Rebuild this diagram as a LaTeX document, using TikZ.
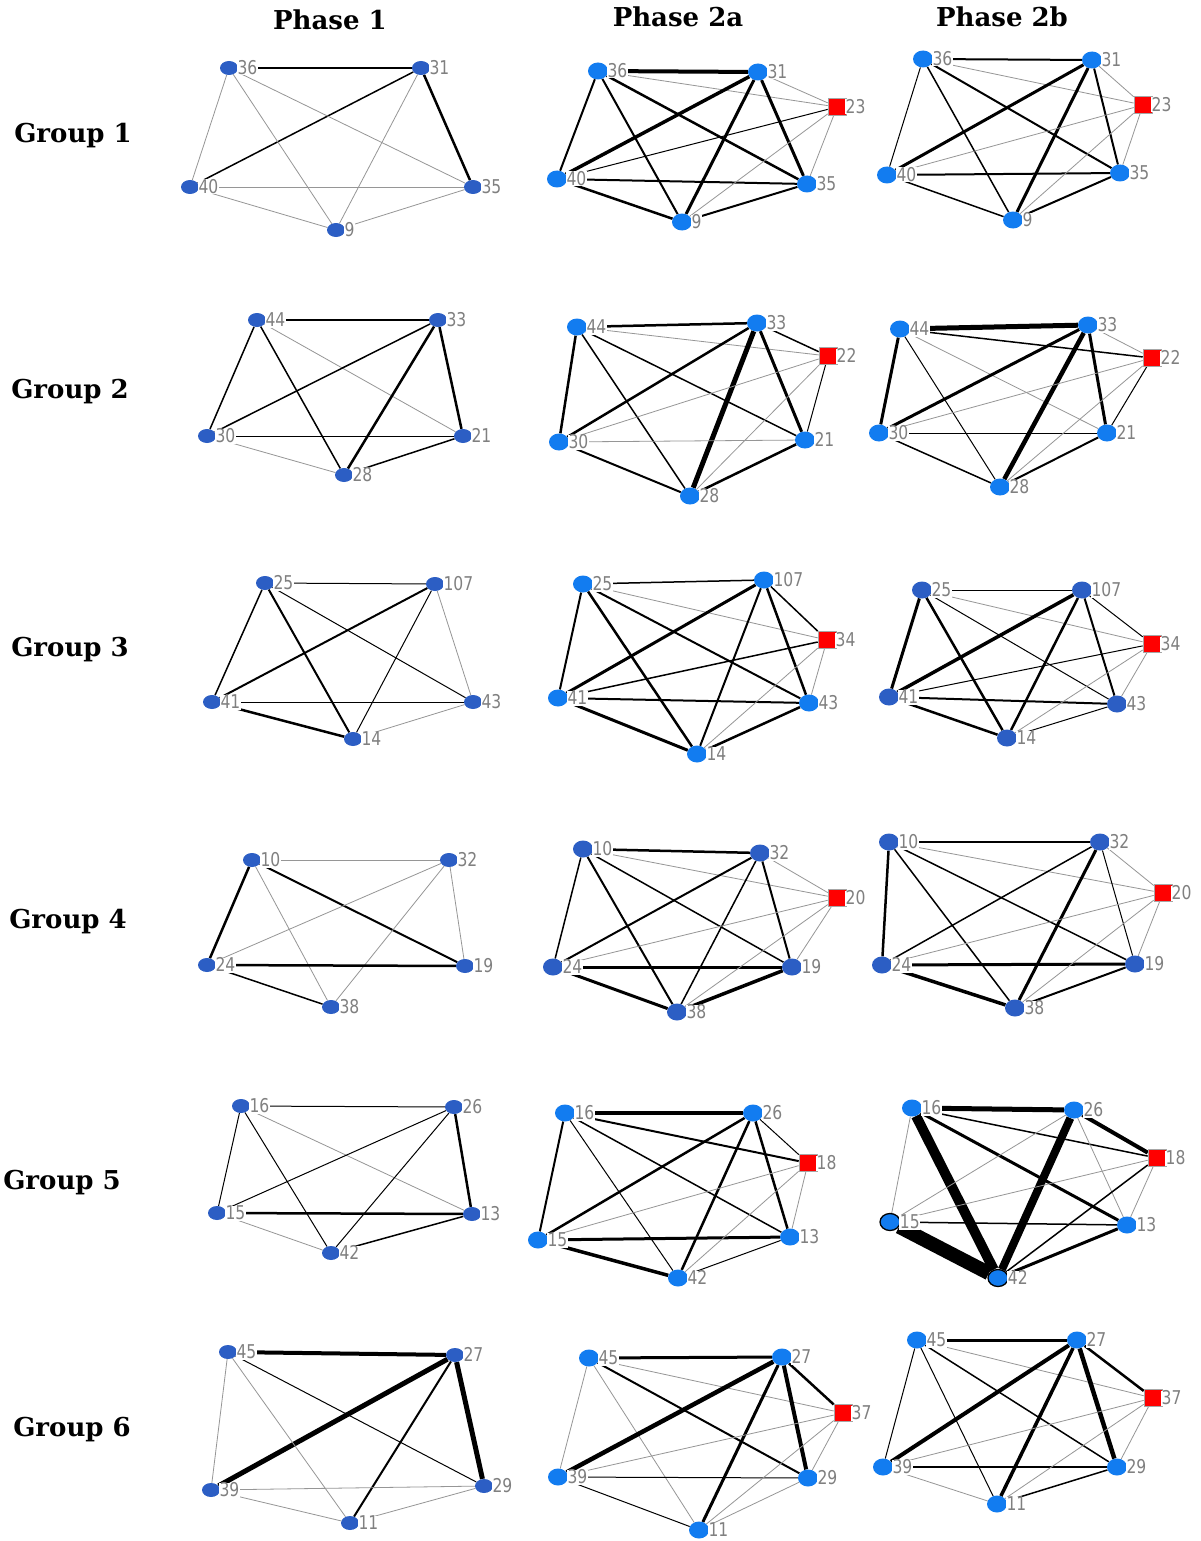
\documentclass[tikz,border=0pt]{standalone}
\usepackage{fontspec}
\usetikzlibrary{shapes.geometric}
\newfontfamily\labfont[FakeStretch=0.82]{DejaVu Sans}
\newfontfamily\headfont{DejaVu Serif}
\definecolor{nbright}{RGB}{18,124,240}
\definecolor{ndark}{RGB}{44,94,196}
\definecolor{lgray}{RGB}{128,128,128}
\definecolor{egray}{RGB}{150,150,150}
\pgfdeclarelayer{back}
\pgfdeclarelayer{bg}
\pgfsetlayers{back,bg,main}
\newcommand\nd[4]{%
  \node[#2] (#1) at (#3) {};
  \node[lab] (#1l) at ([xshift=-1.5pt]#1.east) {#4};}
\tikzset{
  nb/.style={ellipse, minimum width=20pt, minimum height=17pt, inner sep=0pt, fill=nbright},
  nd/.style={ellipse, minimum width=20pt, minimum height=17pt, inner sep=0pt, fill=ndark},
  np/.style={ellipse, minimum width=18pt, minimum height=14pt, inner sep=0pt, fill=ndark},
  nbo/.style={nb, draw=black, line width=1.3pt},
  sq/.style={rectangle, minimum width=18pt, minimum height=17pt, inner sep=0pt, fill=red, draw=gray!70, line width=0.6pt},
  lab/.style={anchor=west, font=\labfont\fontsize{19}{19}\selectfont, text=lgray, fill=white, inner sep=0.6pt, text height=13.8pt, text depth=0pt},
  head/.style={font=\headfont\bfseries\fontsize{26}{30}\selectfont, inner sep=0pt},
  t0/.style={draw=egray, line width=0.8pt},
  t1/.style={draw=black, line width=1pt},
  t15/.style={draw=black, line width=1.5pt},
  t2/.style={draw=black, line width=2pt},
  t25/.style={draw=black, line width=2.5pt},
  t3/.style={draw=black, line width=3pt},
  t35/.style={draw=black, line width=3.5pt},
  t4/.style={draw=black, line width=4pt},
  t45/.style={draw=black, line width=4.5pt},
  t5/.style={draw=black, line width=5pt},
  t8/.style={draw=black, line width=8pt},
  t10/.style={draw=black, line width=10pt},
  t14/.style={draw=black, line width=14pt},
}
\begin{document}
\begin{tikzpicture}[x=1pt,y=-1pt]
\begin{pgfonlayer}{back}
\fill[white] (0,0) rectangle (1200,1541);
\end{pgfonlayer}
\useasboundingbox (0,0) rectangle (1200,1541);

% headers
\node[head] (hp1) at (330,20) {Phase 1};
\node[head] (hp2a) at (678,17) {Phase 2a};
\node[head] (hp2b) at (1002,17) {Phase 2b};
\node[head] (hg1) at (73,136) {Group 1};
\node[head] (hg2) at (70,392) {Group 2};
\node[head] (hg3) at (70,650) {Group 3};
\node[head] (hg4) at (68,922) {Group 4};
\node[head] (hg5) at (62,1183) {Group 5};
\node[head] (hg6) at (72,1430) {Group 6};

% ---------- Group 1, Phase 1
\nd{a1n36}{np}{229,68}{36}
\nd{a1n31}{np}{421,68}{31}
\nd{a1n40}{np}{190,187}{40}
\nd{a1n35}{np}{473,187}{35}
\nd{a1n9}{np}{336,230}{9}
\begin{pgfonlayer}{bg}
\draw[t15] (a1n36)--(a1n31); \draw[t15] (a1n31)--(a1n40); \draw[t25] (a1n31)--(a1n35);
\draw[t0] (a1n36)--(a1n40); \draw[t0] (a1n36)--(a1n9); \draw[t0] (a1n36)--(a1n35);
\draw[t0] (a1n31)--(a1n9); \draw[t0] (a1n40)--(a1n35); \draw[t0] (a1n40)--(a1n9); \draw[t0] (a1n9)--(a1n35);
\end{pgfonlayer}

% ---------- Group 1, Phase 2a
\nd{b1n36}{nb}{598,71}{36}
\nd{b1n31}{nb}{758,72}{31}
\nd{b1n23}{sq}{837,107}{23}
\nd{b1n40}{nb}{557,179}{40}
\nd{b1n35}{nb}{807,184}{35}
\nd{b1n9}{nb}{682,222}{9}
\begin{pgfonlayer}{bg}
\draw[t4] (b1n36)--(b1n31); \draw[t0] (b1n36)--(b1n23); \draw[t2] (b1n36)--(b1n40);
\draw[t2] (b1n36)--(b1n9); \draw[t25] (b1n36)--(b1n35); \draw[t35] (b1n31)--(b1n40);
\draw[t3] (b1n31)--(b1n9); \draw[t3] (b1n31)--(b1n35); \draw[t0] (b1n31)--(b1n23);
\draw[t1] (b1n40)--(b1n23); \draw[t2] (b1n40)--(b1n35); \draw[t25] (b1n40)--(b1n9);
\draw[t0] (b1n9)--(b1n23); \draw[t2] (b1n9)--(b1n35); \draw[t0] (b1n35)--(b1n23);
\end{pgfonlayer}

% ---------- Group 1, Phase 2b
\nd{c1n36}{nb}{923,59}{36}
\nd{c1n31}{nb}{1092,60}{31}
\nd{c1n23}{sq}{1143,105}{23}
\nd{c1n40}{nb}{887,175}{40}
\nd{c1n35}{nb}{1120,173}{35}
\nd{c1n9}{nb}{1013,220}{9}
\begin{pgfonlayer}{bg}
\draw[t2] (c1n36)--(c1n31); \draw[t0] (c1n36)--(c1n23); \draw[t1] (c1n36)--(c1n40);
\draw[t15] (c1n36)--(c1n9); \draw[t2] (c1n36)--(c1n35); \draw[t3] (c1n31)--(c1n40);
\draw[t3] (c1n31)--(c1n9); \draw[t2] (c1n31)--(c1n35); \draw[t0] (c1n31)--(c1n23);
\draw[t0] (c1n40)--(c1n23); \draw[t2] (c1n40)--(c1n35); \draw[t15] (c1n40)--(c1n9);
\draw[t0] (c1n9)--(c1n23); \draw[t2] (c1n9)--(c1n35); \draw[t0] (c1n35)--(c1n23);
\end{pgfonlayer}

% ---------- Group 2, Phase 1
\nd{a2n44}{np}{257,320}{44}
\nd{a2n33}{np}{438,320}{33}
\nd{a2n30}{np}{207,436}{30}
\nd{a2n21}{np}{463,436}{21}
\nd{a2n28}{np}{344,475}{28}
\begin{pgfonlayer}{bg}
\draw[t25] (a2n44)--(a2n33); \draw[t15] (a2n44)--(a2n30); \draw[t15] (a2n44)--(a2n28);
\draw[t0] (a2n44)--(a2n21); \draw[t15] (a2n33)--(a2n30); \draw[t25] (a2n33)--(a2n28);
\draw[t25] (a2n33)--(a2n21); \draw[t1] (a2n30)--(a2n21); \draw[t0] (a2n30)--(a2n28);
\draw[t15] (a2n28)--(a2n21);
\end{pgfonlayer}

% ---------- Group 2, Phase 2a
\nd{b2n44}{nb}{577,327}{44}
\nd{b2n33}{nb}{757,323}{33}
\nd{b2n22}{sq}{828,356}{22}
\nd{b2n30}{nb}{559,442}{30}
\nd{b2n21}{nb}{805,440}{21}
\nd{b2n28}{nb}{690,496}{28}
\begin{pgfonlayer}{bg}
\draw[t25] (b2n44)--(b2n33); \draw[t0] (b2n44)--(b2n22); \draw[t25] (b2n44)--(b2n30);
\draw[t15] (b2n44)--(b2n28); \draw[t15] (b2n44)--(b2n21); \draw[t25] (b2n33)--(b2n30);
\draw[t5] (b2n33)--(b2n28); \draw[t3] (b2n33)--(b2n21); \draw[t15] (b2n33)--(b2n22);
\draw[t0] (b2n30)--(b2n22); \draw[t0] (b2n30)--(b2n21); \draw[t2] (b2n30)--(b2n28);
\draw[t0] (b2n28)--(b2n22); \draw[t25] (b2n28)--(b2n21); \draw[t1] (b2n21)--(b2n22);
\end{pgfonlayer}

% ---------- Group 2, Phase 2b
\nd{c2n44}{nb}{900,329}{44}
\nd{c2n33}{nb}{1088,325}{33}
\nd{c2n22}{sq}{1152,358}{22}
\nd{c2n30}{nb}{879,433}{30}
\nd{c2n21}{nb}{1107,433}{21}
\nd{c2n28}{nb}{1000,487}{28}
\begin{pgfonlayer}{bg}
\draw[t5] (c2n44)--(c2n33); \draw[t15] (c2n44)--(c2n22); \draw[t3] (c2n44)--(c2n30);
\draw[t1] (c2n44)--(c2n28); \draw[t0] (c2n44)--(c2n21); \draw[t3] (c2n33)--(c2n30);
\draw[t45] (c2n33)--(c2n28); \draw[t3] (c2n33)--(c2n21); \draw[t0] (c2n33)--(c2n22);
\draw[t0] (c2n30)--(c2n22); \draw[t1] (c2n30)--(c2n21); \draw[t15] (c2n30)--(c2n28);
\draw[t0] (c2n28)--(c2n22); \draw[t2] (c2n28)--(c2n21); \draw[t1] (c2n21)--(c2n22);
\end{pgfonlayer}

% ---------- Group 3, Phase 1
\nd{a3n25}{np}{265,583}{25}
\nd{a3n107}{np}{435,584}{107}
\nd{a3n41}{np}{212,702}{41}
\nd{a3n43}{np}{473,702}{43}
\nd{a3n14}{np}{353,739}{14}
\begin{pgfonlayer}{bg}
\draw[t1] (a3n25)--(a3n107); \draw[t15] (a3n25)--(a3n41); \draw[t2] (a3n25)--(a3n14);
\draw[t1] (a3n25)--(a3n43); \draw[t2] (a3n107)--(a3n41); \draw[t1] (a3n107)--(a3n14);
\draw[t0] (a3n107)--(a3n43); \draw[t1] (a3n41)--(a3n43); \draw[t25] (a3n41)--(a3n14);
\draw[t0] (a3n14)--(a3n43);
\end{pgfonlayer}

% ---------- Group 3, Phase 2a
\nd{b3n25}{nb}{583,584}{25}
\nd{b3n107}{nb}{764,580}{107}
\nd{b3n34}{sq}{827,640}{34}
\nd{b3n41}{nb}{558,698}{41}
\nd{b3n43}{nb}{809,703}{43}
\nd{b3n14}{nb}{697,754}{14}
\begin{pgfonlayer}{bg}
\draw[t15] (b3n25)--(b3n107); \draw[t0] (b3n25)--(b3n34); \draw[t2] (b3n25)--(b3n41);
\draw[t25] (b3n25)--(b3n14); \draw[t2] (b3n25)--(b3n43); \draw[t3] (b3n107)--(b3n41);
\draw[t2] (b3n107)--(b3n14); \draw[t25] (b3n107)--(b3n43); \draw[t15] (b3n107)--(b3n34);
\draw[t15] (b3n41)--(b3n34); \draw[t2] (b3n41)--(b3n43); \draw[t3] (b3n41)--(b3n14);
\draw[t0] (b3n14)--(b3n34); \draw[t25] (b3n14)--(b3n43); \draw[t0] (b3n43)--(b3n34);
\end{pgfonlayer}

% ---------- Group 3, Phase 2b
\nd{c3n25}{nd}{922,590}{25}
\nd{c3n107}{nd}{1082,590}{107}
\nd{c3n34}{sq}{1152,644}{34}
\nd{c3n41}{nd}{889,697}{41}
\nd{c3n43}{nd}{1117,704}{43}
\nd{c3n14}{nd}{1007,738}{14}
\begin{pgfonlayer}{bg}
\draw[t1] (c3n25)--(c3n107); \draw[t0] (c3n25)--(c3n34); \draw[t3] (c3n25)--(c3n41);
\draw[t25] (c3n25)--(c3n14); \draw[t1] (c3n25)--(c3n43); \draw[t35] (c3n107)--(c3n41);
\draw[t25] (c3n107)--(c3n14); \draw[t2] (c3n107)--(c3n43); \draw[t1] (c3n107)--(c3n34);
\draw[t1] (c3n41)--(c3n34); \draw[t2] (c3n41)--(c3n43); \draw[t25] (c3n41)--(c3n14);
\draw[t0] (c3n14)--(c3n34); \draw[t1] (c3n14)--(c3n43); \draw[t0] (c3n43)--(c3n34);
\end{pgfonlayer}

% ---------- Group 4, Phase 1
\nd{a4n10}{np}{252,860}{10}
\nd{a4n32}{np}{449,860}{32}
\nd{a4n24}{np}{207,965}{24}
\nd{a4n19}{np}{465,966}{19}
\nd{a4n38}{np}{331,1007}{38}
\begin{pgfonlayer}{bg}
\draw[t0] (a4n10)--(a4n32); \draw[t25] (a4n10)--(a4n24); \draw[t2] (a4n10)--(a4n19);
\draw[t0] (a4n10)--(a4n38); \draw[t0] (a4n32)--(a4n24); \draw[t0] (a4n32)--(a4n38);
\draw[t0] (a4n32)--(a4n19); \draw[t25] (a4n24)--(a4n19); \draw[t15] (a4n24)--(a4n38);
\end{pgfonlayer}

% ---------- Group 4, Phase 2a
\nd{b4n10}{nd}{583,849}{10}
\nd{b4n32}{nd}{760,853}{32}
\nd{b4n20}{sq}{837,898}{20}
\nd{b4n24}{nd}{553,967}{24}
\nd{b4n19}{nd}{792,967}{19}
\nd{b4n38}{nd}{677,1012}{38}
\begin{pgfonlayer}{bg}
\draw[t25] (b4n10)--(b4n32); \draw[t0] (b4n10)--(b4n20); \draw[t15] (b4n10)--(b4n24);
\draw[t2] (b4n10)--(b4n38); \draw[t15] (b4n10)--(b4n19); \draw[t2] (b4n32)--(b4n24);
\draw[t15] (b4n32)--(b4n38); \draw[t2] (b4n32)--(b4n19); \draw[t0] (b4n32)--(b4n20);
\draw[t0] (b4n24)--(b4n20); \draw[t3] (b4n24)--(b4n19); \draw[t3] (b4n24)--(b4n38);
\draw[t0] (b4n38)--(b4n20); \draw[t35] (b4n38)--(b4n19); \draw[t0] (b4n19)--(b4n20);
\end{pgfonlayer}

% ---------- Group 4, Phase 2b
\nd{c4n10}{nd}{889,842}{10}
\nd{c4n32}{nd}{1100,842}{32}
\nd{c4n20}{sq}{1163,893}{20}
\nd{c4n24}{nd}{882,965}{24}
\nd{c4n19}{nd}{1135,964}{19}
\nd{c4n38}{nd}{1015,1008}{38}
\begin{pgfonlayer}{bg}
\draw[t25] (c4n10)--(c4n32); \draw[t0] (c4n10)--(c4n20); \draw[t25] (c4n10)--(c4n24);
\draw[t15] (c4n10)--(c4n38); \draw[t15] (c4n10)--(c4n19); \draw[t15] (c4n32)--(c4n24);
\draw[t3] (c4n32)--(c4n38); \draw[t1] (c4n32)--(c4n19); \draw[t0] (c4n32)--(c4n20);
\draw[t0] (c4n24)--(c4n20); \draw[t3] (c4n24)--(c4n19); \draw[t35] (c4n24)--(c4n38);
\draw[t0] (c4n38)--(c4n20); \draw[t2] (c4n38)--(c4n19); \draw[t0] (c4n19)--(c4n20);
\end{pgfonlayer}

% ---------- Group 5, Phase 1
\nd{a5n16}{np}{241,1106}{16}
\nd{a5n26}{np}{454,1107}{26}
\nd{a5n15}{np}{217,1213}{15}
\nd{a5n13}{np}{472,1214}{13}
\nd{a5n42}{np}{331,1253}{42}
\begin{pgfonlayer}{bg}
\draw[t1] (a5n16)--(a5n26); \draw[t1] (a5n16)--(a5n15); \draw[t1] (a5n16)--(a5n42);
\draw[t0] (a5n16)--(a5n13); \draw[t1] (a5n26)--(a5n15); \draw[t1] (a5n26)--(a5n42);
\draw[t25] (a5n26)--(a5n13); \draw[t25] (a5n15)--(a5n13); \draw[t0] (a5n15)--(a5n42);
\draw[t15] (a5n42)--(a5n13);
\end{pgfonlayer}

% ---------- Group 5, Phase 2a
\nd{b5n16}{nb}{565,1113}{16}
\nd{b5n26}{nb}{753,1113}{26}
\nd{b5n18}{sq}{808,1163}{18}
\nd{b5n15}{nb}{538,1240}{15}
\nd{b5n13}{nb}{790,1237}{13}
\nd{b5n42}{nb}{678,1278}{42}
\begin{pgfonlayer}{bg}
\draw[t35] (b5n16)--(b5n26); \draw[t2] (b5n16)--(b5n18); \draw[t2] (b5n16)--(b5n15);
\draw[t1] (b5n16)--(b5n42); \draw[t15] (b5n16)--(b5n13); \draw[t25] (b5n26)--(b5n15);
\draw[t25] (b5n26)--(b5n42); \draw[t25] (b5n26)--(b5n13); \draw[t1] (b5n26)--(b5n18);
\draw[t0] (b5n15)--(b5n18); \draw[t3] (b5n15)--(b5n13); \draw[t35] (b5n15)--(b5n42);
\draw[t0] (b5n42)--(b5n18); \draw[t1] (b5n42)--(b5n13); \draw[t0] (b5n13)--(b5n18);
\end{pgfonlayer}

% ---------- Group 5, Phase 2b
\nd{c5n16}{nb}{912,1108}{16}
\nd{c5n26}{nb}{1074,1110}{26}
\nd{c5n18}{sq}{1157,1158}{18}
\nd{c5n15}{nbo}{890,1222}{15}
\nd{c5n13}{nb}{1127,1225}{13}
\nd{c5n42}{nbo}{998,1278}{42}
\begin{pgfonlayer}{bg}
\draw[t5] (c5n16)--(c5n26); \draw[t15] (c5n16)--(c5n18); \draw[t0] (c5n16)--(c5n15);
\draw[t10] (c5n16)--(c5n42); \draw[t3] (c5n16)--(c5n13); \draw[t0] (c5n26)--(c5n15);
\draw[t8] (c5n26)--(c5n42); \draw[t0] (c5n26)--(c5n13); \draw[t4] (c5n26)--(c5n18);
\draw[t0] (c5n15)--(c5n18); \draw[t15] (c5n15)--(c5n13); \draw[t14] (c5n15)--(c5n42);
\draw[t15] (c5n42)--(c5n18); \draw[t3] (c5n42)--(c5n13); \draw[t0] (c5n13)--(c5n18);
\end{pgfonlayer}

% ---------- Group 6, Phase 1
\nd{a6n45}{np}{228,1352}{45}
\nd{a6n27}{np}{455,1355}{27}
\nd{a6n39}{np}{211,1490}{39}
\nd{a6n29}{np}{484,1486}{29}
\nd{a6n11}{np}{350,1523}{11}
\begin{pgfonlayer}{bg}
\draw[t4] (a6n45)--(a6n27); \draw[t5] (a6n27)--(a6n39); \draw[t5] (a6n27)--(a6n29);
\draw[t2] (a6n27)--(a6n11); \draw[t0] (a6n45)--(a6n39); \draw[t0] (a6n45)--(a6n11);
\draw[t1] (a6n45)--(a6n29); \draw[t0] (a6n39)--(a6n29); \draw[t0] (a6n39)--(a6n11);
\draw[t0] (a6n11)--(a6n29);
\end{pgfonlayer}

% ---------- Group 6, Phase 2a
\nd{b6n45}{nb}{589,1358}{45}
\nd{b6n27}{nb}{782,1357}{27}
\nd{b6n37}{sq}{843,1413}{37}
\nd{b6n39}{nb}{558,1477}{39}
\nd{b6n29}{nb}{808,1478}{29}
\nd{b6n11}{nb}{699,1530}{11}
\begin{pgfonlayer}{bg}
\draw[t3] (b6n45)--(b6n27); \draw[t0] (b6n45)--(b6n37); \draw[t0] (b6n45)--(b6n39);
\draw[t0] (b6n45)--(b6n11); \draw[t2] (b6n45)--(b6n29); \draw[t45] (b6n27)--(b6n39);
\draw[t3] (b6n27)--(b6n11); \draw[t4] (b6n27)--(b6n29); \draw[t25] (b6n27)--(b6n37);
\draw[t0] (b6n39)--(b6n37); \draw[t1] (b6n39)--(b6n29); \draw[t1] (b6n39)--(b6n11);
\draw[t0] (b6n11)--(b6n37); \draw[t0] (b6n11)--(b6n29); \draw[t0] (b6n29)--(b6n37);
\end{pgfonlayer}

% ---------- Group 6, Phase 2b
\nd{c6n45}{nb}{917,1340}{45}
\nd{c6n27}{nb}{1077,1340}{27}
\nd{c6n37}{sq}{1153,1398}{37}
\nd{c6n39}{nb}{883,1467}{39}
\nd{c6n29}{nb}{1117,1467}{29}
\nd{c6n11}{nb}{997,1504}{11}
\begin{pgfonlayer}{bg}
\draw[t3] (c6n45)--(c6n27); \draw[t0] (c6n45)--(c6n37); \draw[t1] (c6n45)--(c6n39);
\draw[t1] (c6n45)--(c6n11); \draw[t15] (c6n45)--(c6n29); \draw[t4] (c6n27)--(c6n39);
\draw[t35] (c6n27)--(c6n11); \draw[t45] (c6n27)--(c6n29); \draw[t25] (c6n27)--(c6n37);
\draw[t0] (c6n39)--(c6n37); \draw[t15] (c6n39)--(c6n29); \draw[t0] (c6n39)--(c6n11);
\draw[t0] (c6n11)--(c6n37); \draw[t15] (c6n11)--(c6n29); \draw[t0] (c6n29)--(c6n37);
\end{pgfonlayer}
\end{tikzpicture}
\end{document}
